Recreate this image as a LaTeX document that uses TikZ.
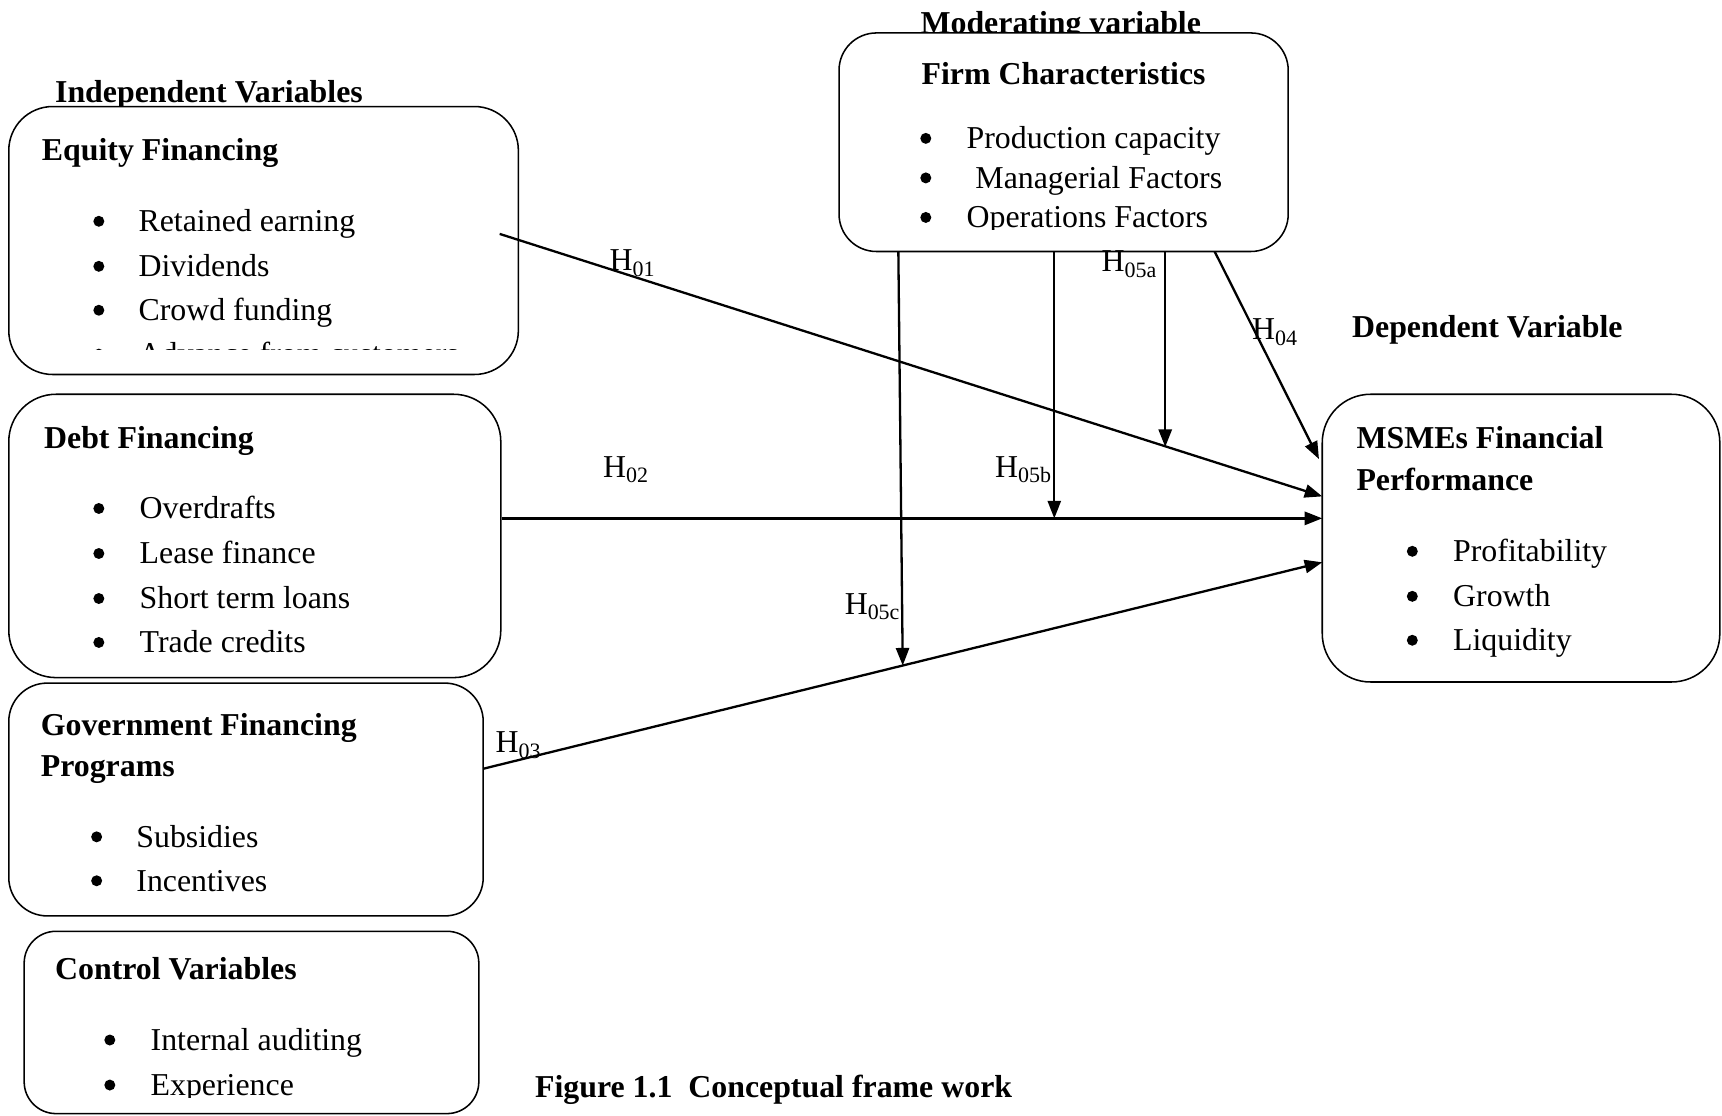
\documentclass[tikz,border=0pt]{standalone}
\usepackage{fontspec}
\setmainfont{Liberation Serif}
\usetikzlibrary{arrows.meta}
\newcommand\hyp[1]{H\raisebox{-5pt}{\fontsize{20}{20}\selectfont #1}}
\begin{document}
\begin{tikzpicture}[x=1pt,y=-1pt,
  txt/.style={inner sep=0pt, anchor=base west, font=\fontsize{29}{35}\selectfont},
  hd/.style={inner sep=0pt, anchor=base west, font=\fontsize{29}{35}\selectfont\bfseries},
  box/.style={draw, line width=1.4pt, fill=white, rounded corners=#1, inner sep=0pt},
  arr/.style={line width=2.1pt, -{Triangle[length=16pt,width=12pt]}},
  ln/.style={line width=2.1pt}]
\useasboundingbox (0,0) rectangle (1568,1016);

% titles (drawn before boxes so that boxes cover their descenders)
\node[hd] (tind) at (50,93) {Independent Variables};
\node[hd] (tmod) at (838,30.5) {Moderating variable};
\node[hd] (tdep) at (1231,307.5) {Dependent Variable};
\node[hd] (tcap) at (487,999.5) {Figure 1.1\ \ Conceptual frame work};

% boxes
\node[box=40, minimum width=464, minimum height=244] (eq) at (240,219) {};
\node[box=43, minimum width=448, minimum height=258] (debt) at (232,488) {};
\node[box=35, minimum width=432, minimum height=212] (gov) at (224,728) {};
\node[box=29, minimum width=414, minimum height=166] (ctrl) at (229,931) {};
\node[box=34, minimum width=409, minimum height=199] (firm) at (968.5,129.5) {};
\node[box=44, minimum width=362, minimum height=262] (msme) at (1385,490) {};

% Equity content
\node[hd] (eqh) at (38,146) {Equity Financing};
\begin{scope}
  \clip (8,97) rectangle (472,318.5);
  \foreach \t/\y [count=\i] in {Retained earning/211, Dividends/252, Crowd funding/292, Advance from customers/332}{
    \fill (90,\y-9.5) circle (5pt);
    \node[txt] (eqi\i) at (126,\y) {\t};
  }
\end{scope}

% Debt content
\node[hd] (debth) at (40,408.5) {Debt Financing};
\foreach \t/\y [count=\i] in {Overdrafts/472.5, Lease finance/513.5, Short term loans/554.5, Trade credits/594.5}{
  \fill (90,\y-9.5) circle (5pt);
  \node[txt] (debti\i) at (127,\y) {\t};
}

% Government content
\node[hd] (govh1) at (37,669.5) {Government Financing};
\node[hd] (govh2) at (37,707.5) {Programs};
\foreach \t/\y [count=\i] in {Subsidies/771.5, Incentives/811.5}{
  \fill (88,\y-9.5) circle (5pt);
  \node[txt] (govi\i) at (124,\y) {\t};
}

% Control content
\node[hd] (ctrlh) at (50,891.5) {Control Variables};
\begin{scope}
  \clip (22,848) rectangle (436,999);
  \foreach \t/\y [count=\i] in {Internal auditing/956.5, Experience/997.5}{
    \fill (100,\y-9.5) circle (5pt);
    \node[txt] (ctrli\i) at (137,\y) {\t};
  }
\end{scope}

% Firm content
\node[hd] (firmh) at (839,76.5) {Firm Characteristics};
\begin{scope}
  \clip (764,30) rectangle (1173,209);
  \foreach \t/\x/\y [count=\i] in {Production capacity/880/135.5, Managerial Factors/888/171.5, Operations Factors/880/207.5}{
    \fill (843,\y-9.5) circle (5pt);
    \node[txt] (firmi\i) at (\x,\y) {\t};
  }
\end{scope}

% MSME content
\node[hd] (msmeh1) at (1235,408.5) {MSMEs Financial};
\node[hd] (msmeh2) at (1235,446.5) {Performance};
\foreach \t/\y [count=\i] in {Profitability/511.5, Growth/552.5, Liquidity/592.5}{
  \fill (1286,\y-9.5) circle (5pt);
  \node[txt] (msmei\i) at (1323,\y) {\t};
}

% connector end points
\coordinate (h1s) at (455,213);
\coordinate (h1e) at (1204,452);
\coordinate (h2e) at (1204,472);
\coordinate (h2s) at (debt.east |- h2e);
\coordinate (h3s) at (440,700);
\coordinate (h3e) at (1204,512);
\coordinate (h4s) at (1106,229);
\coordinate (h4e) at (1201,418);
\coordinate (h5as) at (1061,229);
\coordinate (h5ae) at (1061,407);
\coordinate (h5bs) at (960,229);
\coordinate (h5be) at (960,472);
\coordinate (h5cs) at (818,229);
\coordinate (h5ce) at (822,606);

% connectors
\draw[arr] (h1s) -- (h1e);
\draw[arr] (h2s) -- (h2e);
\draw[arr] (h3s) -- (h3e);
\draw[arr] (h4s) -- (h4e);
\draw[arr] (h5as) -- (h5ae);
\draw[arr] (h5bs) -- (h5be);
\draw[arr] (h5cs) -- (h5ce);

% labels
\node[txt] (l1) at (555,246.5) {\hyp{01}};
\node[txt] (l2) at (549,434.5) {\hyp{02}};
\node[txt] (l3) at (451,685.5) {\hyp{03}};
\node[txt] (l4) at (1140,309.5) {\hyp{04}};
\node[txt] (l5a) at (1003,247.5) {\hyp{05a}};
\node[txt] (l5b) at (906,434.5) {\hyp{05b}};
\node[txt] (l5c) at (769,559.5) {\hyp{05c}};
\end{tikzpicture}
\end{document}
